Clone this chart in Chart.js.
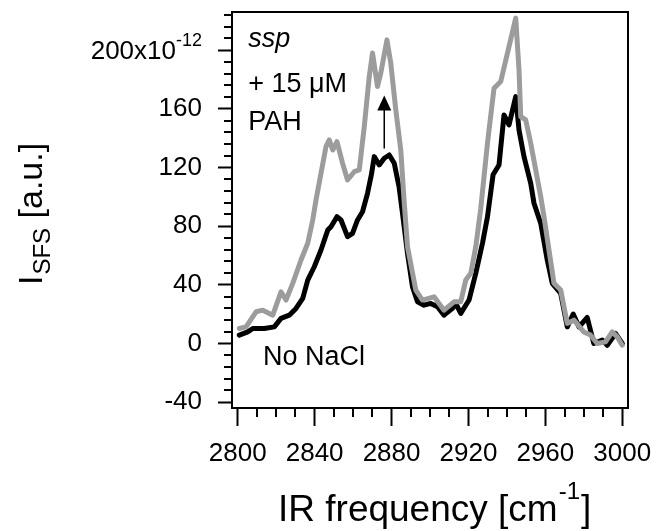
<!DOCTYPE html>
<html>
<head>
<meta charset="utf-8">
<script src="https://cdn.jsdelivr.net/npm/chart.js@4.4.1/dist/chart.umd.min.js"></script>
<style>
  html, body { margin: 0; padding: 0; background: #fff; }
  canvas { display: block; }
</style>
</head>
<body>
<canvas id="sfg" width="656" height="531"></canvas>
<script>
// SFG spectrum, ssp polarisation
const FONT = '"Liberation Sans", Arial, sans-serif';

const xTickVals = [2800, 2840, 2880, 2920, 2960, 3000];
const yTickVals = [-40, 0, 40, 80, 120, 160, 200];

// + 15 uM PAH (grey)
const pahX = [2800.8, 2804.3, 2809.5, 2813.0, 2818.2, 2822.5, 2825.1, 2828.6, 2832.9, 2836.4,
    2839.0, 2840.7, 2843.3, 2845.9, 2847.6, 2849.4, 2851.6, 2854.5, 2857.1, 2860.6,
    2863.2, 2865.8, 2868.4, 2870.1, 2872.7, 2874.4, 2877.6, 2879.6, 2882.2, 2884.8,
    2886.5, 2888.3, 2892.6, 2896.1, 2902.1, 2907.3, 2912.5, 2916.0, 2918.6, 2921.2,
    2923.8, 2926.4, 2929.9, 2933.3, 2936.8, 2940.3, 2944.6, 2946.3, 2947.2, 2949.8,
    2952.4, 2955.0, 2957.6, 2959.3, 2961.9, 2964.5, 2968.0, 2971.4, 2974.9, 2980.0,
    2983.5, 2987.0, 2991.3, 2994.8, 2997.4, 3000.0];
const pahY = [10.2, 11.3, 21.6, 22.7, 19.3, 35.2, 29.6, 41.0, 56.9, 68.3,
    84.2, 97.8, 116.0, 134.2, 138.8, 131.9, 137.6, 122.9, 111.5, 117.1,
    118.3, 147.8, 182.0, 198.0, 175.2, 184.3, 207.0, 191.1, 159.3, 131.9,
    97.8, 65.9, 36.4, 29.6, 31.8, 22.7, 28.4, 28.4, 43.2, 47.8,
    65.9, 92.0, 136.5, 174.0, 178.6, 198.0, 221.8, 186.6, 154.7, 152.4,
    136.5, 118.3, 100.0, 86.4, 63.7, 41.0, 36.4, 13.7, 15.9, 7.9,
    5.7, 0.0, 1.1, 7.9, 4.5, -1.2];

// No NaCl (black)
const noSaltX = [2800.8, 2805.2, 2807.8, 2813.8, 2819.0, 2822.5, 2826.8, 2830.3, 2833.8, 2836.4,
    2839.8, 2843.3, 2846.8, 2848.5, 2851.6, 2853.7, 2857.1, 2859.7, 2862.3, 2864.9,
    2867.5, 2869.5, 2871.0, 2873.6, 2876.2, 2878.8, 2881.4, 2883.9, 2885.7, 2888.3,
    2890.9, 2893.5, 2896.9, 2900.4, 2903.9, 2907.3, 2911.7, 2913.4, 2916.0, 2920.3,
    2923.8, 2927.3, 2929.9, 2932.8, 2935.9, 2938.5, 2941.1, 2944.6, 2946.3, 2948.9,
    2952.4, 2954.1, 2957.6, 2961.0, 2963.6, 2968.0, 2971.4, 2974.5, 2977.5, 2981.8,
    2985.2, 2989.6, 2992.2, 2996.5, 3000.0];
const noSaltY = [5.7, 7.9, 10.2, 10.2, 11.3, 17.1, 19.3, 23.9, 30.7, 43.2,
    52.3, 63.7, 77.3, 79.6, 86.4, 84.2, 72.8, 75.1, 84.2, 89.8,
    102.4, 115.0, 127.4, 121.7, 126.3, 128.5, 122.9, 106.9, 88.7, 61.4,
    38.6, 28.4, 26.1, 27.3, 25.0, 19.3, 23.9, 27.3, 20.5, 29.6,
    47.8, 68.3, 86.4, 115.0, 121.7, 155.8, 149.0, 168.3, 145.6, 127.4,
    109.2, 95.6, 81.9, 56.9, 41.0, 34.1, 11.3, 20.0, 11.3, 17.7,
    0.0, 2.3, -1.2, 6.8, 0.0];

// arrow (x, from, to) in data units
const arrowAt = [2876.2, 133, 169];

function pts(xs, ys) { return xs.map((x, i) => ({ x: x, y: ys[i] })); }

function font(size, style) { return (style || '') + ' ' + size + 'px ' + FONT; }

const extras = {
    id: 'extras',
    afterDraw(chart) {
        const ctx = chart.ctx;
        const xs = chart.scales.x, ys = chart.scales.y;
        const a = chart.chartArea;
        ctx.save();
        ctx.strokeStyle = '#000';
        ctx.fillStyle = '#000';

        // frame
        ctx.lineWidth = 2;
        ctx.strokeRect(a.left, a.top, a.right - a.left, a.bottom - a.top);

        // minor ticks
        ctx.lineWidth = 2;
        ctx.beginPath();
        for (let v = 2800; v <= 3000; v += 10) {
            if (v % 40 === 0) continue;
            const px = Math.round(xs.getPixelForValue(v));
            ctx.moveTo(px, a.bottom); ctx.lineTo(px, a.bottom + 9);
        }
        for (let v = -40; v <= 224; v += 8) {
            if (v % 40 === 0) continue;
            const py = Math.round(ys.getPixelForValue(v));
            ctx.moveTo(a.left, py); ctx.lineTo(a.left - 8, py);
        }
        ctx.stroke();

        // 200x10^-12 label
        const y200 = ys.getPixelForValue(200);
        ctx.textBaseline = 'alphabetic';
        ctx.textAlign = 'right';
        ctx.font = font(18);
        ctx.fillText('-12', 202, y200 - 4);
        const supW = ctx.measureText('-12').width;
        ctx.font = font(26);
        ctx.fillText('200x10', 202 - supW, y200 + 9);

        // arrow
        const ax = xs.getPixelForValue(arrowAt[0]);
        const ay0 = ys.getPixelForValue(arrowAt[1]);
        const ay1 = ys.getPixelForValue(arrowAt[2]);
        ctx.lineWidth = 1.5;
        ctx.beginPath();
        ctx.moveTo(ax, ay0); ctx.lineTo(ax, ay1 + 12);
        ctx.stroke();
        ctx.beginPath();
        ctx.moveTo(ax, ay1); ctx.lineTo(ax - 7, ay1 + 15); ctx.lineTo(ax + 7, ay1 + 15);
        ctx.closePath();
        ctx.fill();

        // in-plot text
        ctx.textAlign = 'left';
        ctx.font = font(27, 'italic');
        ctx.fillText('ssp', xs.getPixelForValue(2805.4), ys.getPixelForValue(202));
        ctx.font = font(27);
        ctx.fillText('+ 15 \u03bcM', xs.getPixelForValue(2805.4), ys.getPixelForValue(171.5));
        ctx.fillText('PAH', xs.getPixelForValue(2805.4), ys.getPixelForValue(145.6));
        ctx.fillText('No NaCl', xs.getPixelForValue(2813.1), ys.getPixelForValue(-14.8));

        // x title
        let x0 = 278;
        const yb = 521;
        ctx.font = font(37);
        ctx.fillText('IR frequency [cm', x0, yb);
        x0 += ctx.measureText('IR frequency [cm').width + 1;
        ctx.font = font(24);
        ctx.fillText('-1', x0, yb - 22);
        x0 += ctx.measureText('-1').width + 1;
        ctx.font = font(37);
        ctx.fillText(']', x0, yb);

        // y title
        ctx.translate(42, 285);
        ctx.rotate(-Math.PI / 2);
        ctx.font = font(34);
        ctx.fillText('I', 0, 0);
        let lx = ctx.measureText('I').width + 1;
        ctx.font = font(24);
        ctx.fillText('SFS', lx, 8);
        lx += ctx.measureText('SFS').width;
        ctx.font = font(34);
        ctx.fillText(' [a.u.]', lx, 0);

        ctx.restore();
    }
};

new Chart(document.getElementById('sfg'), {
    type: 'line',
    data: {
        datasets: [
            { label: '+ 15 uM PAH', data: pts(pahX, pahY), borderColor: '#9c9c9c', borderWidth: 5 },
            { label: 'No NaCl', data: pts(noSaltX, noSaltY), borderColor: '#000', borderWidth: 5 }
        ]
    },
    options: {
        responsive: false,
        animation: false,
        devicePixelRatio: 1,
        parsing: false,
        elements: {
            line: { tension: 0, fill: false, borderJoinStyle: 'round', borderCapStyle: 'round' },
            point: { radius: 0 }
        },
        layout: { padding: { left: 0, right: 28, top: 12, bottom: 0 } },
        plugins: { legend: { display: false }, tooltip: { enabled: false } },
        scales: {
            x: {
                type: 'linear', min: 2797, max: 3003,
                afterBuildTicks: s => { s.ticks = xTickVals.map(v => ({ value: v })); },
                afterFit: s => { s.height = 123; s.paddingLeft = 0; s.paddingRight = 0; },
                grid: { drawOnChartArea: false, tickLength: 18, tickWidth: 2, tickColor: '#000' },
                border: { color: '#000', width: 2 },
                ticks: {
                    color: '#000', font: { family: FONT, size: 26 }, padding: 12, maxRotation: 0, autoSkip: false,
                    callback: v => String(v)
                }
            },
            y: {
                type: 'linear', min: -44, max: 226,
                afterBuildTicks: s => { s.ticks = yTickVals.map(v => ({ value: v })); },
                afterFit: s => { s.width = 232; s.paddingTop = 0; s.paddingBottom = 0; },
                grid: { drawOnChartArea: false, tickLength: 14, tickWidth: 2, tickColor: '#000' },
                border: { color: '#000', width: 2 },
                ticks: {
                    color: '#000', font: { family: FONT, size: 26 }, padding: 16, autoSkip: false,
                    callback: v => (v === 200 ? '' : String(v))
                }
            }
        }
    },
    plugins: [extras]
});
</script>
</body>
</html>
